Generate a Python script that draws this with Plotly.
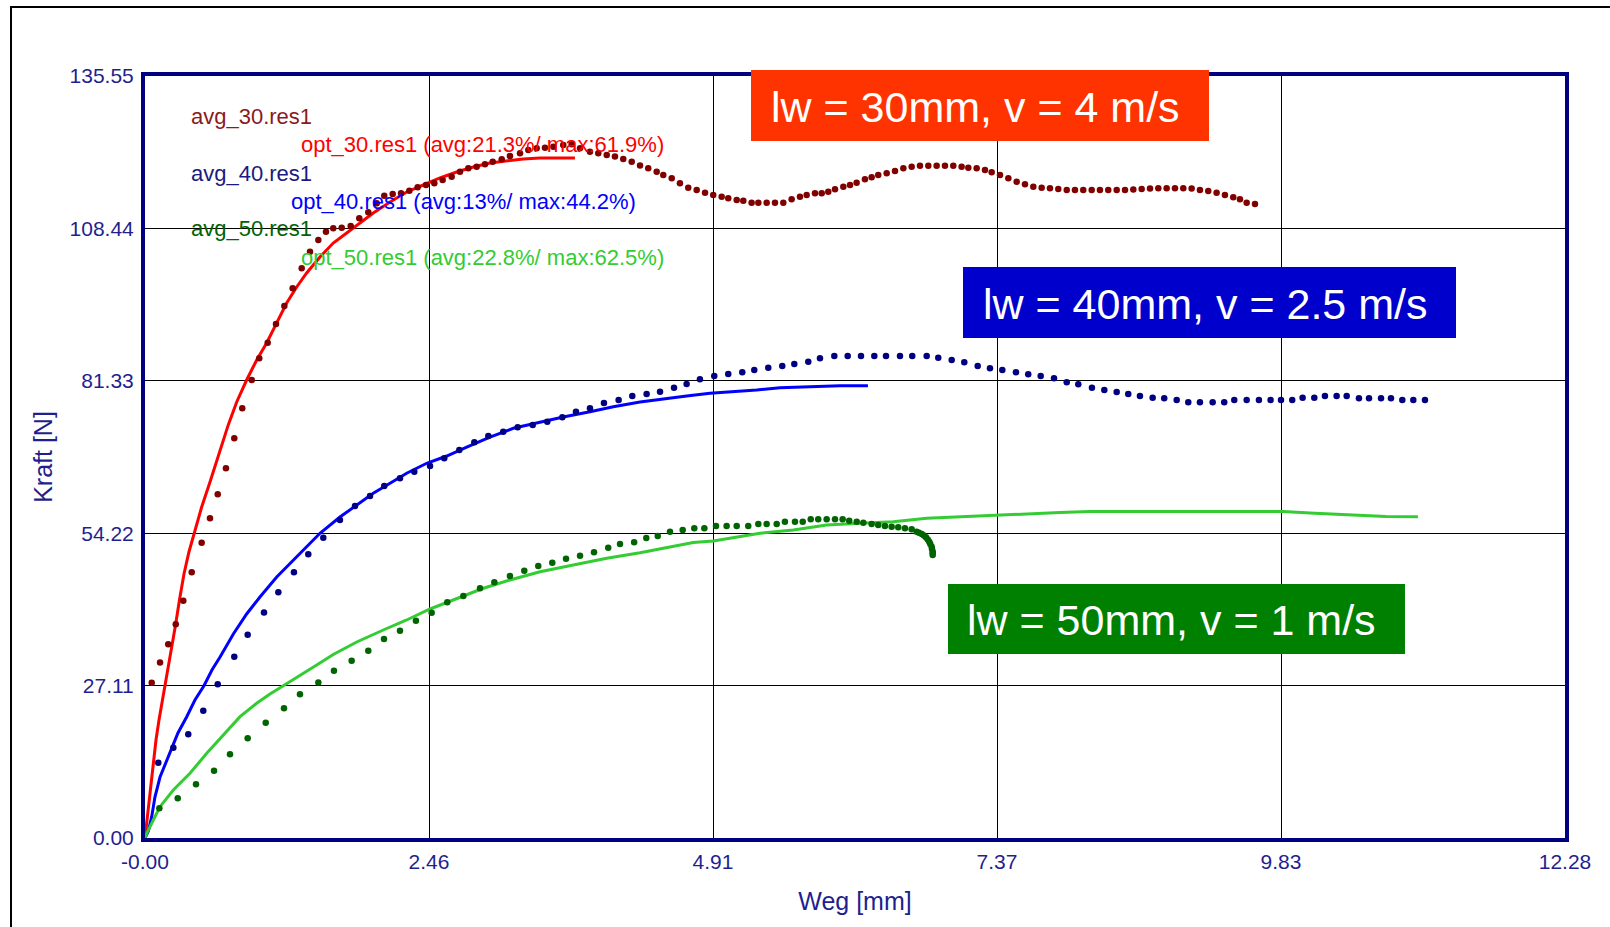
import plotly.graph_objects as go

# ---------------- data (Weg [mm], Kraft [N]) ----------------
avg30_x = [0.058, 0.130, 0.201, 0.266, 0.331, 0.404, 0.490, 0.562, 0.629, 0.700, 0.772, 0.841, 0.923, 0.988,
           1.061, 1.133, 1.205, 1.277, 1.355, 1.427, 1.499, 1.565, 1.628, 1.701, 1.779, 1.853, 1.931, 2.004,
           2.069, 2.142, 2.214, 2.286, 2.358, 2.430, 2.502, 2.574, 2.652, 2.724, 2.796, 2.868, 2.940, 3.007,
           3.085, 3.156, 3.243, 3.315, 3.387, 3.459, 3.531, 3.617, 3.690, 3.762, 3.848, 3.920, 3.993, 4.064,
           4.136, 4.209, 4.281, 4.352, 4.425, 4.482, 4.555, 4.626, 4.698, 4.771, 4.843, 4.914, 4.987, 5.044,
           5.117, 5.174, 5.246, 5.304, 5.376, 5.448, 5.520, 5.592, 5.664, 5.722, 5.794, 5.852, 5.909, 5.967,
           6.039, 6.097, 6.154, 6.226, 6.284, 6.341, 6.414, 6.486, 6.558, 6.630, 6.702, 6.774, 6.846, 6.918,
           6.990, 7.062, 7.120, 7.192, 7.264, 7.322, 7.394, 7.466, 7.538, 7.610, 7.682, 7.754, 7.826, 7.898,
           7.971, 8.042, 8.114, 8.187, 8.258, 8.330, 8.403, 8.475, 8.547, 8.619, 8.691, 8.763, 8.835, 8.907,
           8.979, 9.051, 9.123, 9.195, 9.267, 9.339, 9.411, 9.469, 9.527, 9.599]
avg30_y = [27.63, 31.22, 34.46, 38.03, 42.20, 47.27, 52.53, 56.87, 61.14, 65.77, 71.10, 76.44, 81.47, 85.33,
           88.11, 91.43, 94.64, 97.79, 101.34, 104.30, 106.38, 107.85, 108.46, 108.57, 108.87, 110.24, 111.31, 112.90,
           114.26, 114.56, 114.68, 115.15, 115.75, 116.16, 116.46, 117.05, 117.64, 118.53, 119.13, 119.42, 119.84, 120.31,
           120.73, 121.32, 121.80, 122.39, 122.69, 122.80, 122.97, 123.28, 123.40, 122.69, 122.09, 121.80, 121.50, 121.23,
           120.79, 120.31, 119.63, 119.13, 118.53, 117.94, 117.35, 116.46, 115.68, 115.27, 114.79, 114.38, 114.08, 113.80,
           113.49, 113.37, 113.01, 113.01, 113.01, 113.01, 113.01, 113.62, 114.08, 114.38, 114.68, 114.68, 114.97, 115.40,
           115.86, 116.16, 116.57, 117.18, 117.53, 117.94, 118.24, 118.65, 119.13, 119.42, 119.60, 119.60, 119.60, 119.60,
           119.60, 119.42, 119.24, 119.13, 118.83, 118.42, 117.94, 117.35, 116.75, 116.28, 115.86, 115.68, 115.57, 115.45,
           115.27, 115.27, 115.27, 115.27, 115.27, 115.27, 115.27, 115.27, 115.36, 115.45, 115.54, 115.57, 115.57, 115.57,
           115.57, 115.54, 115.27, 115.09, 114.79, 114.38, 113.97, 113.62, 113.01, 112.78]

opt30_x = [0.0, 0.017, 0.035, 0.052, 0.074, 0.095, 0.121, 0.147, 0.173, 0.199, 0.225, 0.264, 0.298, 0.337,
           0.380, 0.424, 0.490, 0.562, 0.649, 0.720, 0.793, 0.879, 0.966, 1.052, 1.139, 1.225, 1.312, 1.398,
           1.513, 1.628, 1.744, 1.859, 1.974, 2.119, 2.263, 2.407, 2.551, 2.695, 2.839, 2.983, 3.128, 3.271,
           3.416, 3.560, 3.718]
opt30_y = [0.0, 3.20, 6.76, 10.32, 13.88, 17.43, 20.99, 24.01, 26.68, 30.24, 33.44, 37.89, 42.34, 46.96,
           50.88, 54.26, 58.88, 63.33, 69.02, 73.49, 77.56, 81.47, 85.03, 88.06, 91.62, 95.17, 98.02, 100.51,
           103.35, 105.84, 107.62, 109.40, 111.18, 113.14, 114.92, 116.16, 117.41, 118.47, 119.36, 120.08, 120.43,
           120.79, 120.97, 120.97, 120.97]

avg40_x = [0.115, 0.245, 0.374, 0.504, 0.629, 0.772, 0.888, 1.029, 1.153, 1.288, 1.412, 1.542, 1.686, 1.816,
           1.946, 2.069, 2.205, 2.329, 2.465, 2.588, 2.718, 2.848, 2.969, 3.098, 3.223, 3.353, 3.479, 3.609,
           3.727, 3.848, 3.969, 4.096, 4.214, 4.338, 4.454, 4.575, 4.684, 4.799, 4.923, 5.044, 5.165, 5.269,
           5.390, 5.511, 5.615, 5.736, 5.837, 5.961, 6.077, 6.192, 6.307, 6.408, 6.529, 6.635, 6.760, 6.860,
           6.976, 7.085, 7.201, 7.307, 7.414, 7.532, 7.638, 7.746, 7.861, 7.971, 8.071, 8.189, 8.296, 8.403,
           8.503, 8.604, 8.714, 8.814, 8.922, 9.022, 9.123, 9.233, 9.333, 9.420, 9.527, 9.633, 9.734, 9.824,
           9.921, 10.011, 10.112, 10.204, 10.305, 10.392, 10.498, 10.585, 10.689, 10.775, 10.873, 10.968, 11.069]
avg40_y = [13.40, 16.06, 18.45, 22.64, 27.34, 32.25, 36.16, 40.11, 43.71, 47.26, 50.47, 53.42, 56.57, 59.06,
           60.84, 62.62, 63.99, 65.16, 66.17, 67.54, 69.02, 70.39, 71.51, 72.28, 73.06, 73.47, 74.06, 74.84,
           75.84, 76.44, 77.38, 77.91, 78.63, 78.98, 79.39, 80.10, 80.76, 81.60, 82.18, 82.54, 82.84, 83.25,
           83.66, 83.96, 84.32, 84.73, 85.33, 85.74, 85.74, 85.74, 85.74, 85.74, 85.74, 85.74, 85.74, 85.44,
           85.03, 84.62, 83.96, 83.55, 83.25, 82.84, 82.49, 82.18, 81.78, 81.06, 80.71, 80.10, 79.69, 79.34,
           78.98, 78.63, 78.33, 78.22, 77.91, 77.51, 77.51, 77.51, 77.51, 77.91, 77.91, 77.91, 77.91, 77.91,
           77.91, 78.33, 78.33, 78.63, 78.63, 78.63, 78.22, 78.22, 78.22, 78.22, 77.91, 77.91, 77.91]

opt40_x = [0.0, 0.029, 0.058, 0.086, 0.130, 0.182, 0.231, 0.285, 0.361, 0.432, 0.510, 0.579, 0.649, 0.764,
           0.879, 0.994, 1.139, 1.282, 1.398, 1.513, 1.686, 1.831, 1.974, 2.119, 2.263, 2.436, 2.609, 2.782,
           2.983, 3.185, 3.416, 3.617, 3.848, 4.050, 4.281, 4.511, 4.684, 4.886, 5.087, 5.289, 5.491, 5.722,
           6.010, 6.252]
opt40_y = [0.0, 1.25, 3.79, 7.29, 10.85, 13.52, 16.01, 18.68, 21.58, 24.55, 27.09, 29.89, 32.20, 36.29,
           39.85, 42.87, 46.43, 49.45, 51.77, 54.20, 57.10, 59.24, 61.32, 63.10, 64.88, 66.66, 67.95, 69.55,
           71.33, 72.88, 74.00, 74.89, 75.83, 76.72, 77.56, 78.22, 78.63, 79.11, 79.39, 79.69, 80.10, 80.28,
           80.46, 80.46]

avg50_x = [0.124, 0.283, 0.441, 0.597, 0.735, 0.888, 1.044, 1.202, 1.340, 1.499, 1.634, 1.787, 1.931, 2.067,
           2.205, 2.343, 2.479, 2.614, 2.753, 2.897, 3.021, 3.156, 3.280, 3.401, 3.522, 3.641, 3.762, 3.883,
           4.006, 4.108, 4.230, 4.335, 4.434, 4.540, 4.650, 4.750, 4.837, 4.938, 5.030, 5.117, 5.217, 5.304,
           5.376, 5.463, 5.534, 5.621, 5.688, 5.757, 5.822, 5.895, 5.967, 6.033, 6.090, 6.155, 6.212, 6.284,
           6.341, 6.399, 6.457, 6.514, 6.572, 6.630, 6.673, 6.693, 6.717, 6.736, 6.754, 6.769, 6.782, 6.791,
           6.803, 6.806, 6.812, 6.812, 6.812]
avg50_y = [5.28, 7.06, 9.55, 11.97, 14.89, 17.74, 20.51, 23.07, 25.56, 27.66, 29.76, 31.54, 33.32, 35.40,
           36.88, 38.66, 40.08, 41.93, 43.05, 44.42, 45.49, 46.61, 47.55, 48.39, 48.97, 49.68, 50.22, 50.82,
           51.64, 52.30, 52.60, 53.37, 53.72, 54.49, 54.79, 55.09, 55.09, 55.50, 55.50, 55.50, 55.50, 55.86,
           55.86, 55.86, 56.27, 56.27, 56.27, 56.69, 56.69, 56.69, 56.69, 56.69, 56.44, 56.27, 56.09, 55.86,
           55.68, 55.50, 55.38, 55.27, 55.09, 54.91, 54.49, 54.29, 54.08, 53.81, 53.49, 53.10, 52.71, 52.30,
           51.82, 51.41, 50.93, 50.65, 50.34]

opt50_x = [0.0, 0.015, 0.072, 0.130, 0.245, 0.389, 0.534, 0.677, 0.822, 0.966, 1.081, 1.196, 1.340, 1.485,
           1.628, 1.831, 2.061, 2.263, 2.465, 2.695, 2.926, 3.156, 3.416, 3.704, 3.993, 4.281, 4.454, 4.741,
           4.914, 5.087, 5.318, 5.606, 5.895, 6.183, 6.471, 6.760, 7.048, 7.336, 7.625, 7.912, 8.172, 8.950,
           9.841, 10.117, 10.731, 11.008]
opt50_y = [0.0, 0.84, 3.20, 5.57, 8.54, 11.51, 15.07, 18.32, 21.58, 23.96, 25.62, 27.09, 29.00, 30.77,
           32.64, 34.87, 37.00, 38.78, 40.74, 42.64, 44.42, 45.90, 47.37, 48.56, 49.76, 50.75, 51.41, 52.57,
           52.83, 53.37, 54.20, 54.79, 55.68, 55.98, 56.27, 56.87, 57.16, 57.37, 57.64, 57.90, 58.08, 58.08,
           58.08, 57.76, 57.19, 57.16]

x_ticks = [0.0, 2.456, 4.912, 7.368, 9.824, 12.28]
x_tick_text = ["-0.00", "2.46", "4.91", "7.37", "9.83", "12.28"]
y_ticks = [0.0, 27.11, 54.22, 81.33, 108.44, 135.55]
y_tick_text = ["0.00", "27.11", "54.22", "81.33", "108.44", "135.55"]

legend_entries = ["avg_30.res1", "opt_30.res1 (avg:21.3%/ max:61.9%)",
                  "avg_40.res1", "opt_40.res1 (avg:13%/ max:44.2%)",
                  "avg_50.res1", "opt_50.res1 (avg:22.8%/ max:62.5%)"]
box_labels = ["lw = 30mm, v = 4 m/s", "lw = 40mm, v = 2.5 m/s", "lw = 50mm, v = 1 m/s"]

# ---------------- layout geometry (pixels) ----------------
W, H = 1610, 927
L, R, T, B = 145, 1565, 76, 838
PW, PH = R - L, B - T


def px(X):
    return (X - L) / PW


def py(Y):
    return (B - Y) / PH


FONT = "Liberation Sans, Arial, sans-serif"
NAVY = "#000080"
LABEL = "#1F1F8F"

fig = go.Figure()

lines = [(opt30_x, opt30_y, "#FF0000"), (opt40_x, opt40_y, "#0000FF"), (opt50_x, opt50_y, "#33CC33")]
for xs, ys, c in lines:
    fig.add_trace(go.Scatter(x=xs, y=ys, mode="lines", line=dict(color=c, width=3),
                             hoverinfo="skip"))

dots = [(avg30_x, avg30_y, "#800000"), (avg40_x, avg40_y, "#000080"), (avg50_x, avg50_y, "#006400")]
for xs, ys, c in dots:
    fig.add_trace(go.Scatter(x=xs, y=ys, mode="markers",
                             marker=dict(color=c, size=6.5, symbol="circle", line=dict(width=0)),
                             hoverinfo="skip"))

shapes = []
# outer frame
shapes.append(dict(type="line", xref="paper", yref="paper", x0=px(11), x1=px(1612), y0=py(7), y1=py(7),
                   line=dict(color="black", width=2), layer="above"))
shapes.append(dict(type="line", xref="paper", yref="paper", x0=px(11), x1=px(11), y0=py(6), y1=py(930),
                   line=dict(color="black", width=2), layer="above"))

# coloured label boxes
boxes = [((751, 70, 1209, 141), "#FF3300", 769),
         ((963, 267, 1456, 338), "#0000CC", 981),
         ((948, 584, 1405, 654), "#008000", 965)]
annotations = []
for (x0, y0, x1, y1), col, tx in boxes:
    shapes.append(dict(type="rect", xref="paper", yref="paper", x0=px(x0), x1=px(x1), y0=py(y1), y1=py(y0),
                       fillcolor=col, line=dict(width=0), layer="above"))
for ((x0, y0, x1, y1), col, tx), lab in zip(boxes, box_labels):
    annotations.append(dict(text=lab, xref="paper", yref="paper", x=px(tx), y=py((y0 + y1) / 2 + 1),
                            xanchor="left", yanchor="middle", showarrow=False,
                            font=dict(family=FONT, size=43, color="white")))

# legend-like texts
leg_pos = [(189, 117, "#8B1A1A"), (299, 145, "#FF0000"), (189, 173, "#1A1A80"),
           (289, 201, "#0000FF"), (189, 228, "#006400"), (299, 257, "#33CC33")]
for (x, y, c), t in zip(leg_pos, legend_entries):
    annotations.append(dict(text=t, xref="paper", yref="paper", x=px(x), y=py(y),
                            xanchor="left", yanchor="middle", showarrow=False,
                            font=dict(family=FONT, size=22, color=c)))

fig.update_layout(
    width=W, height=H,
    margin=dict(l=L, r=W - R, t=T, b=H - B, pad=0),
    paper_bgcolor="white", plot_bgcolor="white",
    showlegend=False,
    shapes=shapes, annotations=annotations,
    font=dict(family=FONT, color=NAVY),
)
fig.update_xaxes(range=[0, 12.28], tickmode="array", tickvals=x_ticks, ticktext=x_tick_text,
                 showgrid=True, gridcolor="black", gridwidth=1, zeroline=False,
                 showline=True, linecolor=NAVY, linewidth=4, mirror=True, ticks="",
                 ticklabelstandoff=2,
                 tickfont=dict(family=FONT, size=21, color=LABEL),
                 title=dict(text="Weg [mm]", font=dict(family=FONT, size=25, color=LABEL), standoff=21))
fig.update_yaxes(range=[0, 135.55], tickmode="array", tickvals=y_ticks, ticktext=y_tick_text,
                 showgrid=True, gridcolor="black", gridwidth=1, zeroline=False,
                 showline=True, linecolor=NAVY, linewidth=4, mirror=True, ticks="",
                 ticklabelstandoff=3,
                 tickfont=dict(family=FONT, size=21, color=LABEL),
                 title=dict(text="Kraft [N]", font=dict(family=FONT, size=25, color=LABEL), standoff=11))

fig.write_html("out.html")
